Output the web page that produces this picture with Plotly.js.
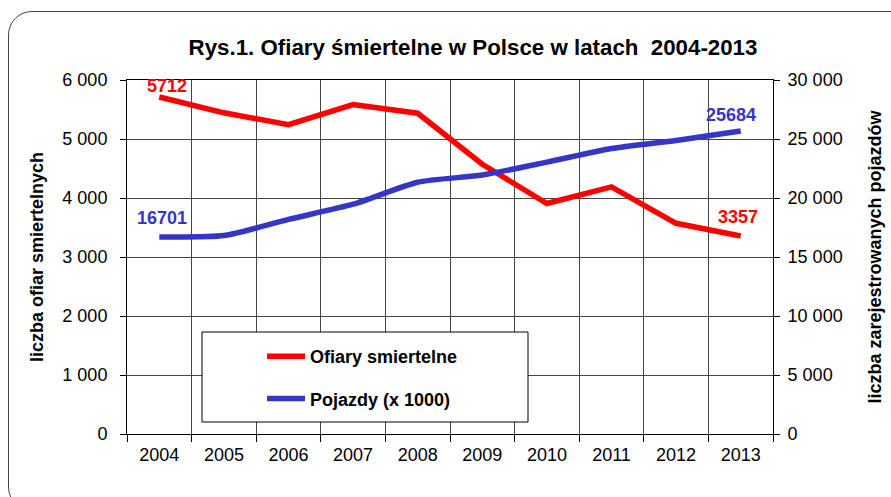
<!DOCTYPE html>
<html><head><meta charset="utf-8">
<script src="https://cdn.plot.ly/plotly-3.0.1.min.js"></script>
<style>
html,body{margin:0;padding:0;background:#fff;}
#wrap{position:relative;width:891px;height:497px;overflow:hidden;background:#fff;}
#frame{position:absolute;left:8px;top:11px;width:930px;height:500px;border:1.3px solid #444;border-radius:24px;box-sizing:border-box;pointer-events:none;}
#chart{position:absolute;left:0;top:0;width:891px;height:497px;}
</style></head>
<body><div id="wrap"><div id="frame"></div><div id="chart"></div></div>
<script>
const years = ['2004','2005','2006','2007','2008','2009','2010','2011','2012','2013'];
const fatalities = [5712,5444,5243,5583,5437,4572,3907,4189,3571,3357];
const vehicles = [16701,16816,18185,19472,21337,21952,23037,24189,24875,25684];
const leftTickVals = [0,1000,2000,3000,4000,5000,6000];
const leftTickText = ['0','1 000','2 000','3 000','4 000','5 000','6 000'];
const rightTickVals = [0,5000,10000,15000,20000,25000,30000];
const rightTickText = ['0','5 000','10 000','15 000','20 000','25 000','30 000'];
const nameFatal = 'Ofiary smiertelne';
const nameVeh = 'Pojazdy (x 1000)';
const titleText = 'Rys.1. Ofiary śmiertelne w Polsce w latach  2004-2013';
const leftTitle = 'liczba ofiar smiertelnych';
const rightTitle = 'liczba zarejestrowanych pojazdów';

const RED = '#ff0000', BLUE = '#3535c8';
const FONT = 'Liberation Sans, Arial, sans-serif';
const last = years.length - 1;

const traces = [
  {x: years, y: fatalities, name: nameFatal, type: 'scatter', mode: 'lines',
   line: {color: RED, width: 5.5}, legendgroup: 'a', yaxis: 'y'},
  {x: years, y: vehicles, name: nameVeh, type: 'scatter', mode: 'lines',
   line: {color: BLUE, width: 5.5, shape: 'spline', smoothing: 0.6}, legendgroup: 'b', yaxis: 'y2'}
];

const lblFont = (c) => ({family: FONT, size: 18, color: c, weight: 'bold'});
const annotations = [
  {x: 0, y: fatalities[0], xref: 'x', yref: 'y', text: String(fatalities[0]), showarrow: false, font: lblFont(RED), xshift: 8, yshift: 11},
  {x: last, y: fatalities[last], xref: 'x', yref: 'y', text: String(fatalities[last]), showarrow: false, font: lblFont(RED), xshift: -3, yshift: 19},
  {x: 0, y: vehicles[0], xref: 'x', yref: 'y2', text: String(vehicles[0]), showarrow: false, font: lblFont(BLUE), xshift: 3, yshift: 19},
  {x: last, y: vehicles[last], xref: 'x', yref: 'y2', text: String(vehicles[last]), showarrow: false, font: lblFont(BLUE), xshift: -10, yshift: 16}
];

const layout = {
  width: 891, height: 497,
  margin: {l: 127, r: 118, t: 80, b: 63},
  paper_bgcolor: 'rgba(0,0,0,0)', plot_bgcolor: 'rgba(0,0,0,0)',
  font: {family: FONT, color: '#000'},
  title: {text: titleText, font: {family: FONT, size: 22.3, color: '#000', weight: 'bold'},
          x: 473/891, xanchor: 'center', xref: 'container', y: 1 - 47/497, yanchor: 'middle', yref: 'container'},
  xaxis: {type: 'category', range: [-0.5, 9.5], tickson: 'boundaries', ticks: 'outside', ticklen: 7,
          tickcolor: '#000', showgrid: true, gridcolor: '#444', gridwidth: 1, showline: true, linecolor: '#000',
          mirror: true, tickfont: {family: FONT, size: 18, color: '#000'}, ticklabelstandoff: 4, fixedrange: true},
  yaxis: {range: [0, 6000], tickvals: leftTickVals, ticktext: leftTickText, ticks: 'outside', ticklen: 6,
          tickcolor: '#000', showline: true, linecolor: '#000', gridcolor: '#444', gridwidth: 1, zeroline: false,
          tickfont: {family: FONT, size: 18, color: '#000'}, ticklabelstandoff: 9,
          title: {text: leftTitle, font: {family: FONT, size: 18, color: '#000', weight: 'bold'}, standoff: 14},
          fixedrange: true},
  yaxis2: {range: [0, 30000], overlaying: 'y', side: 'right', tickvals: rightTickVals, ticktext: rightTickText,
           ticks: 'outside', ticklen: 6, tickcolor: '#000', showline: true, linecolor: '#000', showgrid: false,
           zeroline: false, tickfont: {family: FONT, size: 18, color: '#000'}, ticklabelstandoff: 4,
           title: {text: rightTitle, font: {family: FONT, size: 18, color: '#000', weight: 'bold'}, standoff: 26},
           fixedrange: true},
  showlegend: true,
  legend: {x: (262-127)/646, y: (434-338)/354, xanchor: 'left', yanchor: 'top', bgcolor: 'rgba(0,0,0,0)',
           borderwidth: 0, traceorder: 'grouped', tracegroupgap: 16, itemwidth: 38,
           font: {family: FONT, size: 18, color: '#000', weight: 'bold'}},
  shapes: [
    {type: 'rect', xref: 'paper', yref: 'paper', x0: (202-127)/646, x1: (528-127)/646, y0: (434-422)/354, y1: (434-332)/354,
     fillcolor: '#fff', line: {color: '#000', width: 1}, layer: 'above'}
  ],
  annotations: annotations
};

Plotly.newPlot('chart', traces, layout, {displayModeBar: false, staticPlot: true});
</script>
</body></html>
